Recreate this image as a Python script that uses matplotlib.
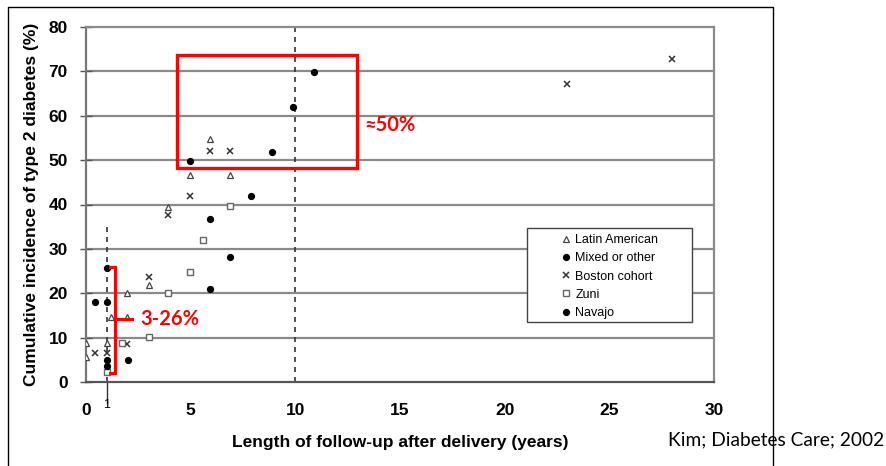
import matplotlib
matplotlib.use("Agg")
import matplotlib.pyplot as plt
from matplotlib.lines import Line2D
from matplotlib.patches import Rectangle

# ---- data ----
latin_x = [0, 0, 1, 1.2, 1.95, 1.95, 3, 3.9, 4.95, 5.9, 6.9]
latin_y = [8.7, 5.7, 8.9, 14.6, 14.6, 20.1, 21.9, 39.5, 46.6, 54.7, 46.6]

mixed_x = [0.45, 1, 1, 2, 4.95, 5.9, 5.9, 6.9, 7.9, 8.9, 9.9, 10.9]
mixed_y = [18.1, 25.8, 18.1, 5.0, 49.8, 36.7, 21.0, 28.1, 42.0, 51.9, 62.0, 69.9]

boston_x = [0.45, 1, 1.95, 3, 3.9, 4.95, 5.9, 6.9, 23, 28]
boston_y = [6.5, 6.6, 8.6, 23.6, 37.6, 42.0, 52.1, 52.1, 67.1, 72.9]

zuni_x = [1, 1.7, 3, 3.9, 4.95, 5.6, 6.9]
zuni_y = [2.3, 8.9, 10.1, 20.0, 24.9, 32.0, 39.7]

navajo_x = [1, 1]
navajo_y = [5.0, 3.5]

series_labels = ["Latin American", "Mixed or other", "Boston cohort", "Zuni", "Navajo"]
x_ticks = [0, 5, 10, 15, 20, 25, 30]
y_ticks = [0, 10, 20, 30, 40, 50, 60, 70, 80]

W, H = 886, 466
fig = plt.figure(figsize=(W / 100, H / 100), dpi=100)
ax = fig.add_axes([86 / W, 1 - 382 / H, (714 - 86) / W, (382 - 27) / H])

grid_c = "#8a8a8a"
ax.set_xlim(0, 30)
ax.set_ylim(0, 80)
for yv in y_ticks[1:-1]:
    ax.axhline(yv, color=grid_c, lw=1.6, zorder=1)
for s in ax.spines.values():
    s.set_color(grid_c)
    s.set_linewidth(1.6)
ax.spines["bottom"].set_color("#555555")
ax.spines["left"].set_color("#777777")

# dashed reference lines
ax.plot([10, 10], [0, 80], ls=(0, (3, 3)), color="#333333", lw=1.2, zorder=2)
ax.plot([1, 1], [0, 35], ls=(0, (3, 3)), color="#333333", lw=1.2, zorder=2)
ax.plot([1, 1], [0, -4.7], color="#333333", lw=1.0, clip_on=False, zorder=2)

mk = dict(linestyle="none", zorder=3)
ax.plot(latin_x, latin_y, marker="^", ms=4.5, mfc="white", mec="#444444", mew=0.9,
        label=series_labels[0], **mk)
ax.plot(mixed_x, mixed_y, marker="o", ms=4.2, mfc="black", mec="black",
        label=series_labels[1], **mk)
ax.plot(boston_x, boston_y, marker="x", ms=4.5, mec="#333333", mew=1.1,
        label=series_labels[2], **mk)
ax.plot(zuni_x, zuni_y, marker="s", ms=4.2, mfc="white", mec="#666666", mew=1.0,
        label=series_labels[3], **mk)
ax.plot(navajo_x, navajo_y, marker="o", ms=4.2, mfc="black", mec="black",
        label=series_labels[4], **mk)

# ticks
ax.set_yticks(y_ticks)
ax.set_yticklabels([str(v) for v in y_ticks], fontsize=12.5, fontweight="bold",
                   family="Liberation Sans")
ax.tick_params(axis="y", direction="inout", length=8, width=1, color="#555555", pad=9)
ax.set_xticks(x_ticks)
ax.set_xticklabels([str(v) for v in x_ticks], fontsize=12.5, fontweight="bold",
                   family="Liberation Sans")
ax.tick_params(axis="x", length=0, pad=15)
ax.text(1, -5.2, "1", ha="center", va="center", fontsize=9, family="Liberation Sans",
        clip_on=False)

ax.set_ylabel("Cumulative incidence of type 2 diabetes (%)", fontsize=12.5,
              fontweight="bold", family="Liberation Sans", labelpad=7)
ax.set_xlabel("Length of follow-up after delivery (years)", fontsize=12.5,
              fontweight="bold", family="Liberation Sans", labelpad=12)

# legend box (drawn separately so its width matches) and legend entries
ax.add_patch(Rectangle((0.702, 0.169), 0.965 - 0.702, 0.434 - 0.169,
                       transform=ax.transAxes, fill=True, facecolor="white",
                       edgecolor="#444444", lw=1.0, zorder=5))
leg = ax.legend(loc="upper left", bbox_to_anchor=((562 - 86) / 628, (382 - 234) / 355),
                frameon=False, prop={"family": "Liberation Sans", "size": 9},
                handlelength=0.6, handletextpad=0.45, labelspacing=0.5,
                borderpad=0, borderaxespad=0)
leg.set_zorder(6)

# red annotations
red = "#ff0000"
ax.add_patch(Rectangle((4.35, 48.2), 12.95 - 4.35, 73.7 - 48.2, fill=False,
                       edgecolor=red, lw=2.4, zorder=4))
ax.text(13.3, 57.9, "\u224850%", color=red, fontsize=14.5, fontweight="bold",
        family=["Lato", "DejaVu Sans"], ha="left", va="center")
bx = (115 - 86) / 20.93
bl = (110 - 86) / 20.93
bm = (132 - 86) / 20.93
ytop = (382 - 267) / 4.4375
ybot = (382 - 373) / 4.4375
ymid = (382 - 319) / 4.4375
ax.plot([bl, bx, bx, bl], [ytop, ytop, ybot, ybot], color=red, lw=2.2, zorder=4,
        solid_joinstyle="miter")
ax.plot([bx, bm], [ymid, ymid], color=red, lw=2.2, zorder=4)
ax.text((140 - 86) / 20.93, ymid, "3-26%", color=red, fontsize=14.5, fontweight="bold",
        family=["Lato", "DejaVu Sans"], ha="left", va="center")

# citation
fig.text(668 / W, 1 - 440 / H, "Kim; Diabetes Care; 2002", fontsize=13.8,
         family=["Lato", "DejaVu Sans"], ha="left", va="center")

# outer open frame
fig.add_artist(Line2D([8 / W, 8 / W, 773 / W, 773 / W],
                      [0, 1 - 7 / H, 1 - 7 / H, 0], color="black", lw=1.0))

fig.savefig("out.png", dpi=100)
